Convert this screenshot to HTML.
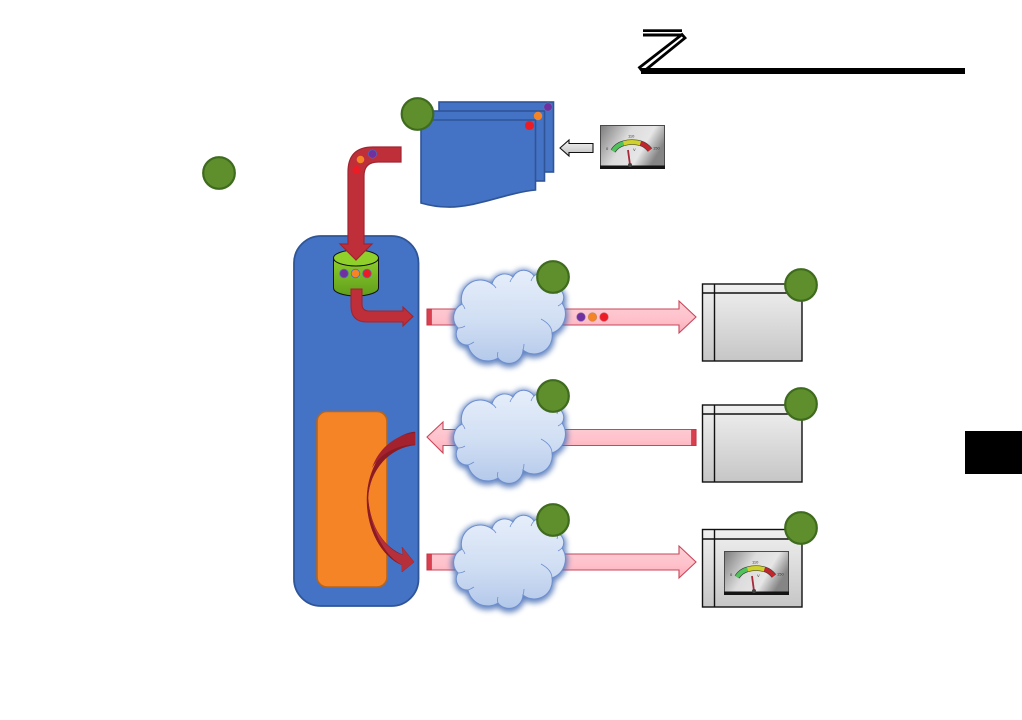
<!DOCTYPE html>
<html>
<head>
<meta charset="utf-8">
<style>
html,body{margin:0;padding:0;background:#fff;width:1022px;height:720px;overflow:hidden}
svg{display:block}
text{font-family:"Liberation Sans",sans-serif}
</style>
</head>
<body>
<svg width="1022" height="720" viewBox="0 0 1022 720" xmlns="http://www.w3.org/2000/svg">
<defs>
  <linearGradient id="cloudG" x1="0" y1="0" x2="0" y2="1"><stop offset="0" stop-color="#e6eefa"/><stop offset="0.55" stop-color="#d0def3"/><stop offset="1" stop-color="#b3c8ea"/></linearGradient>
  <linearGradient id="pinkG" x1="0" y1="0" x2="0" y2="1"><stop offset="0" stop-color="#fbd0d6"/><stop offset="0.6" stop-color="#ffc0ca"/><stop offset="1" stop-color="#f9aab8"/></linearGradient>
  <linearGradient id="winG" x1="0" y1="0" x2="0" y2="1"><stop offset="0" stop-color="#f0f0f0"/><stop offset="1" stop-color="#c6c6c6"/></linearGradient>
  <linearGradient id="cylG" x1="0" y1="0" x2="0" y2="1"><stop offset="0" stop-color="#8fce2a"/><stop offset="1" stop-color="#5f9e1c"/></linearGradient>
  <linearGradient id="gaugeG" x1="0" y1="0" x2="1" y2="0.4"><stop offset="0" stop-color="#7c7c7c"/><stop offset="0.45" stop-color="#dcdcdc"/><stop offset="0.75" stop-color="#e6e6e6"/><stop offset="1" stop-color="#858585"/></linearGradient>
  <linearGradient id="whiteArrow" x1="0" y1="0" x2="0" y2="1"><stop offset="0" stop-color="#f6f6f6"/><stop offset="1" stop-color="#bdbdbd"/></linearGradient>
  <filter id="glow" x="-20%" y="-20%" width="140%" height="140%"><feGaussianBlur stdDeviation="2.8"/></filter>

  <g id="cloud">
    <path transform="translate(0,1.5)" d="M458,328 A15,15 0 0 1 462,304 A19,19 0 0 1 492,284 A13,13 0 0 1 513,277 A12,12 0 0 1 534,276 A14,14 0 0 1 557,288 A10,10 0 0 1 562,303 A20,20 0 0 1 552,333 A18,18 0 0 1 523,350 A14,14 0 0 1 498,358 A20,20 0 0 1 468,345 A11,11 0 0 1 458,328 Z" fill="#4a6fb5" stroke="#4a6fb5" stroke-width="5" opacity="0.85" filter="url(#glow)"/>
    <path d="M458,328 A15,15 0 0 1 462,304 A19,19 0 0 1 492,284 A13,13 0 0 1 513,277 A12,12 0 0 1 534,276 A14,14 0 0 1 557,288 A10,10 0 0 1 562,303 A20,20 0 0 1 552,333 A18,18 0 0 1 523,350 A14,14 0 0 1 498,358 A20,20 0 0 1 468,345 A11,11 0 0 1 458,328 Z" fill="url(#cloudG)" stroke="#6c8ed0" stroke-width="1"/>
    <path d="M458,328 Q462,328 465,326 M462,304 Q464,306 465,309 M492,284 Q494,285 496,288 M513,277 Q511,279 510,282 M534,276 Q532,278 531,281 M557,288 Q558,291 557,294 M562,303 Q560,305 558,306 M552,333 Q552,325 541,319 M523,350 Q524,347 524,344 M498,358 Q497,355 498,352 M468,345 Q471,344 474,342" fill="none" stroke="#6c8ed0" stroke-width="0.8"/>
  </g>

  <g id="gauge">
    <rect x="0.5" y="0.5" width="64" height="43" fill="url(#gaugeG)" stroke="#4a4a4a" stroke-width="1"/>
    <rect x="0" y="40.500" width="65" height="3.500" fill="#141414"/>
    <path d="M13,26 Q17,20 23.500,18.300" fill="none" stroke="#3a3a3a" stroke-width="5.500"/>
    <path d="M23.500,18.300 Q32,16 40.500,18.300" fill="none" stroke="#4a4a3a" stroke-width="5.500"/>
    <path d="M40.500,18.300 Q46,20 50,25" fill="none" stroke="#4a3a3a" stroke-width="5.500"/>
    <path d="M13,26 Q17,20 23.500,18.300" fill="none" stroke="#4fc25a" stroke-width="4.200"/>
    <path d="M23.500,18.300 Q32,16 40.500,18.300" fill="none" stroke="#cfd22c" stroke-width="4.200"/>
    <path d="M40.500,18.300 Q46,20 50,25" fill="none" stroke="#c0272d" stroke-width="4.200"/>
    <path d="M28,25 L30,40" stroke="#a52a3a" stroke-width="1.800"/>
    <circle cx="30" cy="40" r="2" fill="#444"/>
    <text x="6" y="25" font-size="4" fill="#333">0</text>
    <text x="28" y="12.500" font-size="4" fill="#333">110</text>
    <text x="53" y="24.500" font-size="4" fill="#333">150</text>
    <text x="33" y="26" font-size="4" fill="#333">V</text>
  </g>
</defs>

<!-- Header mark -->
<rect x="643" y="29.300" width="39" height="2.700" fill="#000"/>
<rect x="643" y="33.500" width="39" height="3" fill="#000"/>
<path d="M682,34.500 L685,38 L643,72 L639.500,67.500 Z" fill="#fff" stroke="#000" stroke-width="2.800" stroke-linejoin="miter"/>
<rect x="641" y="68" width="324" height="6" fill="#000"/>

<!-- Side tab -->
<rect x="965" y="431" width="57" height="43" fill="#000"/>

<!-- Documents -->
<g stroke="#2f5597" stroke-width="1.600" fill="#4472c4">
  <rect x="439" y="102" width="114.500" height="70"/>
  <rect x="430" y="111" width="114.500" height="70"/>
  <path d="M421,120 H535.500 V190 C505,193 475,208 447,207 C436,207 428,205 421,203 Z"/>
</g>
<circle cx="548" cy="107" r="4.200" fill="#7030a0" stroke="#5b7ab8" stroke-width="0.6"/>
<circle cx="538" cy="116" r="4.200" fill="#f58426"/>
<circle cx="529.500" cy="125.500" r="4.500" fill="#ed1c24"/>

<!-- White arrow -->
<path d="M560,148 L569,140 V143.500 H593 V152.500 H569 V156 Z" fill="url(#whiteArrow)" stroke="#111" stroke-width="1.100"/>

<!-- Gauge top -->
<use href="#gauge" x="600" y="125"/>

<!-- Main blue panel -->
<rect x="294" y="236" width="124.500" height="370" rx="27" ry="27" fill="#4472c4" stroke="#2f5597" stroke-width="1.800"/>
<rect x="317" y="411.500" width="70" height="175.500" rx="10" ry="10" fill="#f58426" stroke="#b5651d" stroke-width="1.600"/>

<!-- Cylinder -->
<path d="M333.500,258 V288 A22.500,8 0 0 0 378.500,288 V258 Z" fill="url(#cylG)" stroke="#111" stroke-width="1"/>
<ellipse cx="356" cy="258" rx="22.500" ry="8" fill="#8fd02a" stroke="#111" stroke-width="1"/>
<circle cx="344" cy="273.500" r="4.300" fill="#7030a0" stroke="#4472c4" stroke-width="0.800"/>
<circle cx="355.500" cy="273.500" r="4.300" fill="#f58426" stroke="#4472c4" stroke-width="0.800"/>
<circle cx="367" cy="273.500" r="4.300" fill="#ed1c24" stroke="#4472c4" stroke-width="0.800"/>

<!-- Bent pipe down -->
<path d="M401,147 V162 H378 Q364,162 364,176 V244 H372 L356,260 L340,244 H348 V172 Q348,147 373,147 Z" fill="#be2f3a" stroke="#a02530" stroke-width="1.200"/>
<circle cx="372.500" cy="154" r="4.200" fill="#7030a0" stroke="#4472c4" stroke-width="0.600"/>
<circle cx="360.500" cy="159.500" r="3.800" fill="#f58426"/>
<circle cx="356.500" cy="170" r="4" fill="#ed1c24"/>

<!-- Small red arrow -->
<path d="M351,289 H362 V304 Q362,311 369,311 H403 V307 L413,316.500 L403,326 V322 H367 Q351,322 351,306 Z" fill="#be2f3a" stroke="#a02530" stroke-width="1.100"/>

<!-- Pink arrows -->
<g fill="url(#pinkG)" stroke="#c8475a" stroke-width="1.100">
  <path d="M427,309 H679 V301 L696,317 L679,333 V325 H427 Z"/>
  <path d="M427,437 L443,422 V429.500 H696 V445.500 H443 V453 Z"/>
  <path d="M427,554 H679 V546 L696,562 L679,578 V570 H427 Z"/>
</g>
<rect x="427" y="309" width="4.500" height="16" fill="#d9404f" stroke="#c02f3e" stroke-width="0.600"/>
<rect x="691.500" y="429.500" width="4.500" height="16" fill="#d9404f" stroke="#c02f3e" stroke-width="0.600"/>
<rect x="427" y="554" width="4.500" height="16" fill="#d9404f" stroke="#c02f3e" stroke-width="0.600"/>
<circle cx="581" cy="317" r="4.300" fill="#7030a0" stroke="#8a6fb0" stroke-width="0.600"/>
<circle cx="592.500" cy="317" r="4.300" fill="#f58426" stroke="#c08a60" stroke-width="0.600"/>
<circle cx="604" cy="317" r="4.300" fill="#ed1c24" stroke="#d06070" stroke-width="0.600"/>

<!-- Curved arrow -->
<path d="M415,432 C395,433 367,460 367,500 C367,530 382,557 402,565 L402,572 L414,562 L402,547 L403,555 C385,548 370,528 368,498 C369,470 390,447 415,445 Z" fill="#8b1a24" stroke="#8b1a24" stroke-width="0.500"/>
<path d="M415,433 C396,434 378,449 372,468 C380,454 396,445 415,444.500 Z" fill="#a3222e"/>
<path d="M369,510 C374,530 386,550 403,555 L402,547 L414,562 L402,572 L402,565 C388,558 376,540 369,510 Z" fill="#b5303a"/>

<!-- Clouds -->
<use href="#cloud"/>
<use href="#cloud" y="120"/>
<use href="#cloud" y="245"/>

<!-- Windows -->
<g stroke="#111" stroke-width="1.400" fill="none">
  <rect x="702.500" y="284" width="99.500" height="77" fill="url(#winG)"/>
  <path d="M714.500,284 V361 M702.500,293 H802"/>
  <rect x="702.500" y="405" width="99.500" height="77" fill="url(#winG)"/>
  <path d="M714.500,405 V482 M702.500,414 H802"/>
  <rect x="702.500" y="529.500" width="99.500" height="77.500" fill="url(#winG)"/>
  <path d="M714.500,529.500 V607 M702.500,539 H802"/>
</g>
<use href="#gauge" x="724" y="551"/>

<!-- Green circles -->
<g fill="#5f8f2c" stroke="#3f6b1e" stroke-width="2.200">
  <circle cx="417.500" cy="114" r="15.800"/>
  <circle cx="219" cy="173" r="15.800"/>
  <circle cx="553" cy="277" r="15.800"/>
  <circle cx="801" cy="285" r="15.800"/>
  <circle cx="553" cy="396" r="15.800"/>
  <circle cx="801" cy="404" r="15.800"/>
  <circle cx="553" cy="520" r="15.800"/>
  <circle cx="801" cy="528" r="15.800"/>
</g>
</svg>
</body>
</html>
